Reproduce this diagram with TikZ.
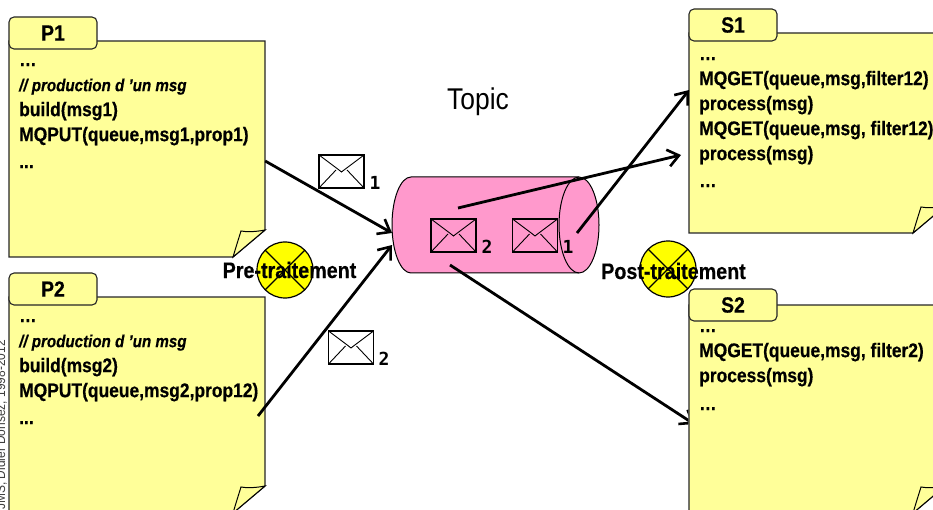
\documentclass[tikz,border=0pt]{standalone}
\usepackage{fontspec}
\setmainfont{Liberation Sans}
\newfontfamily\narrowbf[FakeStretch=0.88,FakeBold=0.4]{Liberation Sans Bold}
\newfontfamily\narrowit[FakeStretch=0.88,FakeBold=0.4]{Liberation Sans Bold Italic}
\newfontfamily\narrowrg[FakeStretch=0.88]{Liberation Sans}
\newfontfamily\digitfont{DejaVu Sans Mono}
\usetikzlibrary{arrows.meta}
\definecolor{noteyellow}{HTML}{FFFF99}
\definecolor{cylpink}{HTML}{FF99CC}
\definecolor{discyellow}{HTML}{FFFF00}
\tikzset{
  x=1pt,y=-1pt,
  sheetline/.style={draw=black!85,line width=1.3pt,fill=noteyellow,line join=miter},
  tabbox/.style={draw=black!85,line width=1.1pt,fill=noteyellow,rounded corners=5pt,minimum width=88pt,minimum height=32pt,inner sep=0pt,font=\narrowbf\fontsize{22}{22}\selectfont},
  codeblock/.style={anchor=north west,inner sep=0pt,align=left,font=\narrowbf\fontsize{19.8}{25}\selectfont},
  flow/.style={line width=2.8pt,black,-{Straight Barb[length=11pt,width=17pt,line width=2.6pt]}},
  envbox/.style={draw=black,line width=1.2pt,minimum width=45pt,minimum height=33pt,inner sep=0pt,
    path picture={
      \draw[black,line width=.9pt] (path picture bounding box.north west) -- ++(20,15) -- ++(2.5,2) -- ++(2.5,-2) -- (path picture bounding box.north east);
      \draw[black,line width=.9pt] (path picture bounding box.south west) -- ++(17,-18);
      \draw[black,line width=.9pt] (path picture bounding box.south east) -- ++(-17,-18);
    }},
  digit/.style={font=\digitfont\bfseries\fontsize{18}{18}\selectfont,inner sep=0pt},
  stopdisc/.style={circle,draw=black,line width=1.2pt,fill=discyellow,minimum size=56pt,inner sep=0pt,
    path picture={
      \draw[black,line width=1.1pt] (path picture bounding box.north west) -- (path picture bounding box.south east);
      \draw[black,line width=1.1pt] (path picture bounding box.north east) -- (path picture bounding box.south west);
    }},
  steplabel/.style={font=\narrowbf\fontsize{22.4}{22.4}\selectfont,inner sep=0pt}
}
\newcommand{\notesheet}[5]{% name, left, top, right, bottom
  \path[sheetline] (#2,#3) -- (#4,#3) -- (#4,#5-27) -- (#4-32,#5) -- (#2,#5) -- cycle;
  \path[draw=black,line width=1pt,fill=noteyellow] (#4-32,#5) .. controls (#4-29,#5-10) .. (#4-24,#5-26) .. controls (#4-19,#5-25) and (#4-10,#5-25) .. (#4,#5-27) -- cycle;
  \node[inner sep=0pt,minimum width=#4-#2,minimum height=#5-#3] (#1) at ({(#2+#4)/2},{(#3+#5)/2}) {};
}
\begin{document}
\begin{tikzpicture}
\useasboundingbox (0,0) rectangle (933,510);
\clip (0,0) rectangle (933,510);

% sheets
\notesheet{sheetP1}{9}{41}{265}{257}
\notesheet{sheetP2}{9}{297}{265}{513}
\notesheet{sheetS1}{689}{33}{945}{233}
\notesheet{sheetS2}{689}{305}{945}{513}

\node[codeblock] (codeP1) at (19,63) {\ldots\\{\narrowit\fontsize{17.2}{25}\selectfont // production d ’un msg}\\build(msg1)\\MQPUT(queue,msg1,prop1)\\[2pt]...};
\node[codeblock] (codeP2) at (19,319) {\ldots\\{\narrowit\fontsize{17.2}{25}\selectfont // production d ’un msg}\\build(msg2)\\MQPUT(queue,msg2,prop12)\\[2pt]...};
\node[codeblock] (codeS1) at (699,57) {\ldots\\MQGET(queue,msg,filter12)\\process(msg)\\MQGET(queue,msg, filter12)\\process(msg)\\[2pt]\ldots};
\node[codeblock] (codeS2) at (699,329) {\ldots\\MQGET(queue,msg, filter2)\\process(msg)\\[3pt]\ldots};

\node[tabbox] (tabP1) at (53,33) {P1};
\node[tabbox] (tabP2) at (53,289) {P2};
\node[tabbox] (tabS1) at (733,25) {S1};
\node[tabbox] (tabS2) at (733,305) {S2};

% arrow passing behind the S2 sheet
\coordinate (outS2from) at (450,265);
\coordinate (outS2to) at (694,424);

% cylinder
\path[draw=black,line width=1pt,fill=cylpink] (411,177) -- (579,177) arc[start angle=90,end angle=-90,x radius=20,y radius=-48] -- (411,273) arc[start angle=-90,end angle=-270,x radius=19,y radius=-48] -- cycle;
\draw[black,line width=1pt] (579,177) arc[start angle=90,end angle=270,x radius=20,y radius=-48];
\node[inner sep=0pt,minimum width=208pt,minimum height=96pt] (topicCyl) at (495,225) {};

\node[font=\narrowrg\fontsize{30}{30}\selectfont,inner sep=0pt] (topicLabel) at (478,102) {Topic};

% envelopes
\node[envbox] (envA) at (341.5,171.5) {};
\node[digit] (digA) at (375,183) {1};
\node[envbox] (envB) at (351,347.5) {};
\node[digit] (digB) at (384,359) {2};
\node[envbox] (envC) at (453.5,235.5) {};
\node[digit] (digC) at (487,247) {2};
\node[envbox] (envD) at (535,235.5) {};
\node[digit] (digD) at (568,247) {1};

% stop discs and labels
\node[stopdisc] (discPre) at (285,270) {};
\node[stopdisc] (discPost) at (668,269) {};
\node[steplabel] (labPre) at (289.5,270) {Pre-traitement};
\node[steplabel] (labPost) at (673.5,271) {Post-traitement};

% credit
\node[rotate=90,anchor=north east,inner sep=0pt,font=\narrowrg\fontsize{13.6}{13.6}\selectfont,text=black!75] (credit) at (-5,340) {JMS, Didier Donsez, 1998-2012};

% connector ends
\coordinate (inA) at (sheetP1.east |- 0,161);
\coordinate (inB) at (258,416);
\coordinate (cylIn1) at (392,233);
\coordinate (cylIn2) at (392,245);
\coordinate (outA) at (458,208);
\coordinate (outAto) at (681,155);
\coordinate (outB) at (577,233);
\coordinate (outBto) at (689,90);

\draw[flow] (inA) -- (cylIn1);
\draw[flow] (inB) -- (cylIn2);
\draw[flow] (outA) -- (outAto);
\draw[flow] (outB) -- (outBto);
\begin{scope}
\clip (0,0) rectangle (688.4,510);
\draw[flow] (outS2from) -- (outS2to);
\end{scope}
\end{tikzpicture}
\end{document}
